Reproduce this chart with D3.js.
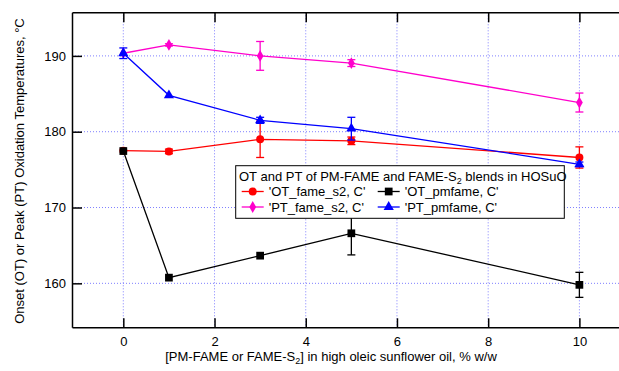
<!DOCTYPE html>
<html><head><meta charset="utf-8">
<script src="https://cdn.jsdelivr.net/npm/d3@7"></script>
<style>body{margin:0;background:#fff}svg{display:block;font-family:"Liberation Sans",Arial,sans-serif}</style>
</head><body>
<svg id="c" width="619" height="371"></svg>
<script>
const xVals = [0, 1, 3, 5, 10];
const otFameS2 = [177.5, 177.4, 179.0, 178.8, 176.6];
const otFameS2Err = [0, 0.3, 2.4, 0.5, 1.4];
const ptFameS2 = [190.35, 191.45, 190.0, 189.05, 183.85];
const ptFameS2Err = [0, 0.15, 1.9, 0.45, 1.25];
const otPmfame = [177.45, 160.75, 163.65, 166.6, 159.8];
const otPmfameErr = [0, 0, 0, 2.85, 1.65];
const ptPmfame = [190.35, 184.8, 181.5, 180.4, 175.7];
const ptPmfameErr = [0.7, 0, 0.4, 1.5, 0.3];
const xTicks = [0, 2, 4, 6, 8, 10];
const yTicks = [160, 170, 180, 190];
const seriesNames = ["'OT_fame_s2, C'", "'PT_fame_s2, C'", "'OT_pmfame, C'", "'PT_pmfame, C'"];

const svg = d3.select("#c");
const L = 72, R = 625, T = 12.3, B = 327.3;
const x = d3.scaleLinear().domain([-1.125, 11]).range([L, R]);
const y = d3.scaleLinear().domain([154.2, 195.75]).range([B, T]);

// grid
const grid = svg.append("g").attr("stroke", "#7f7fff").attr("stroke-width", 1).attr("stroke-dasharray", "1,2");
grid.selectAll(".gx").data(xTicks).join("line")
  .attr("x1", d => x(d)).attr("x2", d => x(d)).attr("y1", T).attr("y2", B);
grid.selectAll(".gy").data(yTicks).join("line")
  .attr("x1", L).attr("x2", R).attr("y1", d => y(d)).attr("y2", d => y(d));

// axes
const axB = svg.append("g").attr("transform", `translate(0,${B})`)
  .call(d3.axisBottom(x).tickValues(xTicks).tickSizeInner(-9).tickSizeOuter(0).tickPadding(9));
const axT = svg.append("g").attr("transform", `translate(0,${T})`)
  .call(d3.axisTop(x).tickValues(xTicks).tickSizeInner(-10).tickSizeOuter(0).tickFormat(""));
const axL = svg.append("g").attr("transform", `translate(${L},0)`)
  .call(d3.axisLeft(y).tickValues(yTicks).tickSizeInner(-10).tickSizeOuter(0).tickPadding(6));
[axB, axT, axL].forEach(a => {
  a.select(".domain").attr("stroke", "#000").attr("stroke-width", 1.5);
  a.selectAll(".tick line").attr("stroke", "#000").attr("stroke-width", 1.5);
  a.selectAll("text").attr("font-size", 13).attr("fill", "#000").attr("font-family", '"Liberation Sans",Arial,sans-serif');
});

// series
function drawSeries(vals, errs, color, shape, size) {
  const g = svg.append("g");
  const pts = xVals.map((xv, i) => ({x: xv, y: vals[i], e: errs[i]}));
  g.append("path").datum(pts).attr("fill", "none").attr("stroke", color).attr("stroke-width", 1.3)
    .attr("d", d3.line().x(d => x(d.x)).y(d => y(d.y)));
  const eb = g.selectAll(".eb").data(pts.filter(d => d.e > 0)).join("g").attr("stroke", color).attr("stroke-width", 1.3);
  eb.append("line").attr("x1", d => x(d.x)).attr("x2", d => x(d.x)).attr("y1", d => y(d.y - d.e)).attr("y2", d => y(d.y + d.e));
  eb.append("line").attr("x1", d => x(d.x) - 4).attr("x2", d => x(d.x) + 4).attr("y1", d => y(d.y - d.e)).attr("y2", d => y(d.y - d.e));
  eb.append("line").attr("x1", d => x(d.x) - 4).attr("x2", d => x(d.x) + 4).attr("y1", d => y(d.y + d.e)).attr("y2", d => y(d.y + d.e));
  g.selectAll(".m").data(pts).join("path").attr("fill", color)
    .attr("transform", d => `translate(${x(d.x)},${y(d.y)})`)
    .attr("d", d3.symbol().type(shape).size(size));
}
drawSeries(otFameS2, otFameS2Err, "#ff0000", d3.symbolCircle, 50);
drawSeries(ptFameS2, ptFameS2Err, "#ff00cc", d3.symbolDiamond, 40);
drawSeries(otPmfame, otPmfameErr, "#000000", d3.symbolSquare, 60);
drawSeries(ptPmfame, ptPmfameErr, "#0000ff", d3.symbolTriangle, 45);

// legend
const lg = svg.append("g");
lg.append("rect").attr("x", 235.7).attr("y", 165.7).attr("width", 328.6).attr("height", 52.6)
  .attr("fill", "#fff").attr("stroke", "#000").attr("stroke-width", 1);
const title = lg.append("text").attr("x", 239).attr("y", 180.5).attr("font-size", 13);
title.append("tspan").text("OT and PT of PM-FAME and FAME-S");
title.append("tspan").text("2").attr("font-size", 9).attr("dy", 3);
title.append("tspan").text(" blends in HOSuO").attr("dy", -3);
const legItems = [
  {name: seriesNames[0], color: "#ff0000", shape: d3.symbolCircle, size: 50, lx: 241.7, ly: 196},
  {name: seriesNames[1], color: "#ff00cc", shape: d3.symbolDiamond, size: 40, lx: 241.7, ly: 211.5},
  {name: seriesNames[2], color: "#000000", shape: d3.symbolSquare, size: 60, lx: 377.7, ly: 196},
  {name: seriesNames[3], color: "#0000ff", shape: d3.symbolTriangle, size: 45, lx: 377.7, ly: 211.5}
];
legItems.forEach(it => {
  const cy = it.ly - 4.5;
  lg.append("line").attr("x1", it.lx).attr("x2", it.lx + 22).attr("y1", cy).attr("y2", cy).attr("stroke", it.color).attr("stroke-width", 1.3);
  lg.append("path").attr("fill", it.color).attr("transform", `translate(${it.lx + 11},${cy})`).attr("d", d3.symbol().type(it.shape).size(it.size));
  lg.append("text").attr("x", it.lx + 27).attr("y", it.ly).attr("font-size", 13).text(it.name);
});

// axis titles
const xl = svg.append("text").attr("x", 331).attr("y", 361).attr("text-anchor", "middle").attr("font-size", 13);
xl.append("tspan").text("[PM-FAME or FAME-S");
xl.append("tspan").text("2").attr("font-size", 9).attr("dy", 3);
xl.append("tspan").text("] in high oleic sunflower oil, % w/w").attr("dy", -3);
svg.append("text").attr("transform", "translate(24,171) rotate(-90)").attr("text-anchor", "middle").attr("font-size", 13)
  .text("Onset (OT) or Peak (PT) Oxidation Temperatures,  \u00B0C");
</script>
</body></html>
